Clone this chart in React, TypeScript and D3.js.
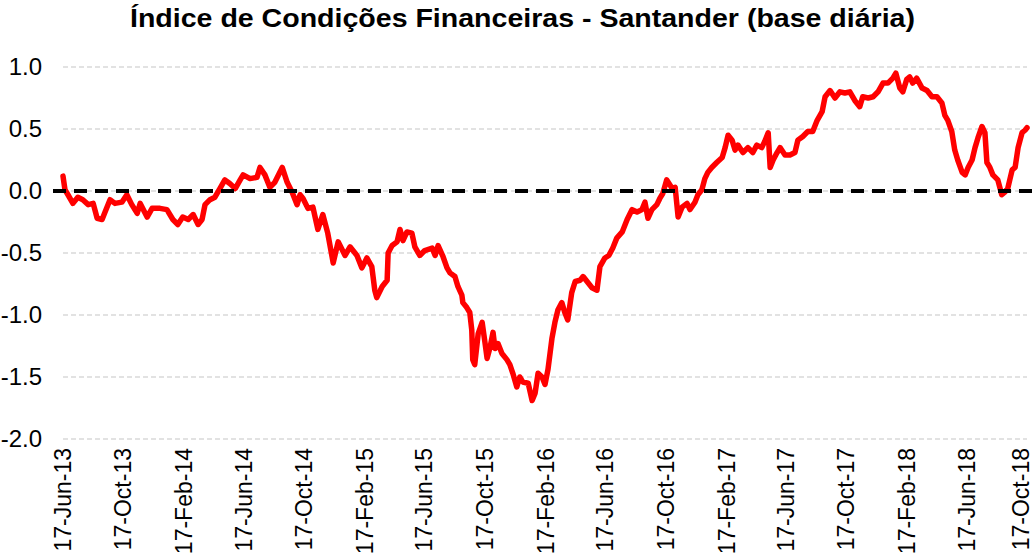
import React, { useEffect, useRef } from 'react';
import * as d3 from 'd3';

// leitura aproximada da série (base diária) a partir do gráfico
const dates = [
  '2013-06-17', '2013-06-21', '2013-06-27', '2013-07-07', '2013-07-17', '2013-07-27', '2013-08-07', '2013-08-17',
  '2013-08-25', '2013-09-04', '2013-09-10', '2013-09-20', '2013-09-30', '2013-10-14', '2013-10-24', '2013-11-03',
  '2013-11-14', '2013-11-20', '2013-12-04', '2013-12-14', '2013-12-30', '2014-01-13', '2014-01-25', '2014-02-04',
  '2014-02-14', '2014-02-25', '2014-03-07', '2014-03-17', '2014-03-25', '2014-03-31', '2014-04-10', '2014-04-20',
  '2014-04-30', '2014-05-10', '2014-05-20', '2014-05-31', '2014-06-10', '2014-06-16', '2014-06-30', '2014-07-14',
  '2014-07-20', '2014-07-30', '2014-08-09', '2014-08-19', '2014-09-03', '2014-09-13', '2014-09-23', '2014-10-03',
  '2014-10-09', '2014-10-15', '2014-10-25', '2014-11-04', '2014-11-14', '2014-11-24', '2014-12-04', '2014-12-15',
  '2014-12-25', '2015-01-08', '2015-01-18', '2015-02-01', '2015-02-11', '2015-02-21', '2015-03-03', '2015-03-09',
  '2015-03-13', '2015-03-24', '2015-04-03', '2015-04-05', '2015-04-13', '2015-04-23', '2015-04-29', '2015-05-05',
  '2015-05-13', '2015-05-23', '2015-05-29', '2015-06-08', '2015-06-18', '2015-07-03', '2015-07-09', '2015-07-15',
  '2015-07-25', '2015-08-02', '2015-08-08', '2015-08-18', '2015-08-24', '2015-09-01', '2015-09-03', '2015-09-11',
  '2015-09-17', '2015-09-21', '2015-09-23', '2015-09-27', '2015-10-04', '2015-10-12', '2015-10-18', '2015-10-22',
  '2015-10-28', '2015-11-03', '2015-11-07', '2015-11-13', '2015-11-21', '2015-12-01', '2015-12-07', '2015-12-13',
  '2015-12-21', '2015-12-27', '2016-01-02', '2016-01-13', '2016-01-21', '2016-01-27', '2016-02-02', '2016-02-10',
  '2016-02-16', '2016-02-22', '2016-03-01', '2016-03-07', '2016-03-13', '2016-03-21', '2016-03-27', '2016-04-02',
  '2016-04-10', '2016-04-17', '2016-04-27', '2016-05-03', '2016-05-11', '2016-05-21', '2016-05-31', '2016-06-06',
  '2016-06-16', '2016-06-24', '2016-07-02', '2016-07-10', '2016-07-21', '2016-07-31', '2016-08-10', '2016-08-20',
  '2016-08-30', '2016-09-05', '2016-09-11', '2016-09-19', '2016-09-29', '2016-10-05', '2016-10-11', '2016-10-19',
  '2016-10-30', '2016-11-05', '2016-11-11', '2016-11-19', '2016-11-29', '2016-12-05', '2016-12-15', '2016-12-21',
  '2016-12-29', '2017-01-04', '2017-01-10', '2017-01-18', '2017-01-28', '2017-02-08', '2017-02-14', '2017-02-20',
  '2017-02-28', '2017-03-06', '2017-03-12', '2017-03-22', '2017-04-01', '2017-04-11', '2017-04-19', '2017-04-29',
  '2017-05-05', '2017-05-12', '2017-05-16', '2017-05-22', '2017-05-30', '2017-06-05', '2017-06-15', '2017-06-25',
  '2017-07-05', '2017-07-11', '2017-07-21', '2017-07-31', '2017-08-10', '2017-08-19', '2017-08-29', '2017-09-04',
  '2017-09-14', '2017-09-24', '2017-10-04', '2017-10-14', '2017-10-24', '2017-11-03', '2017-11-13', '2017-11-19',
  '2017-11-30', '2017-12-10', '2017-12-20', '2017-12-30', '2018-01-09', '2018-01-19', '2018-01-25', '2018-02-02',
  '2018-02-08', '2018-02-16', '2018-02-22', '2018-02-28', '2018-03-08', '2018-03-19', '2018-03-29', '2018-04-08',
  '2018-04-18', '2018-04-28', '2018-05-04', '2018-05-10', '2018-05-18', '2018-05-24', '2018-05-30', '2018-06-08',
  '2018-06-14', '2018-06-20', '2018-06-28', '2018-07-04', '2018-07-10', '2018-07-18', '2018-07-24', '2018-07-28',
  '2018-08-03', '2018-08-09', '2018-08-19', '2018-08-27', '2018-09-02', '2018-09-08', '2018-09-17', '2018-09-23',
  '2018-09-29', '2018-10-07', '2018-10-13', '2018-10-17'
];

const values = [
  0.12, 0.01, -0.03, -0.10, -0.05, -0.07, -0.11, -0.10,
  -0.22, -0.23, -0.17, -0.07, -0.10, -0.09, -0.03, -0.11,
  -0.18, -0.10, -0.21, -0.14, -0.14, -0.15, -0.23, -0.27,
  -0.21, -0.23, -0.19, -0.27, -0.23, -0.11, -0.07, -0.05,
  0.02, 0.09, 0.06, 0.02, 0.09, 0.13, 0.10, 0.11,
  0.19, 0.13, 0.03, 0.07, 0.19, 0.07, -0.01, -0.11,
  -0.03, -0.06, -0.14, -0.13, -0.31, -0.19, -0.34, -0.58,
  -0.41, -0.52, -0.45, -0.52, -0.62, -0.54, -0.61, -0.80,
  -0.86, -0.77, -0.72, -0.50, -0.44, -0.41, -0.31, -0.40,
  -0.33, -0.34, -0.45, -0.52, -0.48, -0.46, -0.52, -0.44,
  -0.53, -0.62, -0.66, -0.69, -0.77, -0.84, -0.90, -0.94,
  -0.98, -1.12, -1.36, -1.40, -1.15, -1.06, -1.23, -1.35,
  -1.26, -1.14, -1.27, -1.23, -1.31, -1.36, -1.40, -1.47,
  -1.58, -1.50, -1.54, -1.55, -1.69, -1.63, -1.47, -1.50,
  -1.56, -1.44, -1.19, -1.06, -0.96, -0.90, -0.98, -1.04,
  -0.82, -0.73, -0.72, -0.69, -0.73, -0.78, -0.80, -0.61,
  -0.54, -0.52, -0.46, -0.38, -0.33, -0.23, -0.15, -0.17,
  -0.15, -0.09, -0.22, -0.15, -0.11, -0.06, -0.02, 0.09,
  0.02, 0.03, -0.21, -0.13, -0.10, -0.15, -0.09, -0.03,
  0.01, 0.10, 0.15, 0.19, 0.23, 0.27, 0.35, 0.45,
  0.41, 0.33, 0.37, 0.31, 0.35, 0.31, 0.37, 0.35,
  0.40, 0.47, 0.19, 0.25, 0.31, 0.35, 0.29, 0.29,
  0.31, 0.41, 0.44, 0.48, 0.48, 0.57, 0.64, 0.76,
  0.81, 0.75, 0.80, 0.79, 0.80, 0.73, 0.68, 0.76,
  0.75, 0.76, 0.80, 0.87, 0.87, 0.91, 0.95, 0.83,
  0.80, 0.90, 0.92, 0.87, 0.91, 0.83, 0.81, 0.76,
  0.76, 0.71, 0.61, 0.57, 0.48, 0.33, 0.25, 0.15,
  0.13, 0.19, 0.25, 0.35, 0.43, 0.52, 0.47, 0.23,
  0.19, 0.13, 0.09, -0.03, -0.01, 0.02, 0.17, 0.19,
  0.35, 0.47, 0.49, 0.51
];

const tickDates = [
  '2013-06-17', '2013-10-17', '2014-02-17', '2014-06-17', '2014-10-17', '2015-02-17',
  '2015-06-17', '2015-10-17', '2016-02-17', '2016-06-17', '2016-10-17', '2017-02-17',
  '2017-06-17', '2017-10-17', '2018-02-17', '2018-06-17', '2018-10-17'
];

const yTicks = [-2, -1.5, -1, -0.5, 0, 0.5, 1];

const title = 'Índice de Condições Financeiras - Santander (base diária)';

const FONT = "'Liberation Sans', Arial, Helvetica, sans-serif";

export default function App() {
  const ref = useRef<SVGSVGElement>(null);

  useEffect(() => {
    const width = 1035;
    const height = 558;
    const svg = d3.select(ref.current);
    svg.selectAll('*').remove();
    svg.attr('width', width).attr('height', height);

    const parse = d3.timeParse('%Y-%m-%d');
    const data = dates.map((d, i) => ({ date: parse(d) as Date, value: values[i] }));
    const ticks = tickDates.map(d => parse(d) as Date);

    const x = d3.scaleTime()
      .domain([ticks[0], ticks[ticks.length - 1]])
      .range([63, 1027]);
    const y = d3.scaleLinear()
      .domain([-2, 1])
      .range([439, 67]);

    svg.append('rect')
      .attr('width', width)
      .attr('height', height)
      .attr('fill', '#ffffff');

    // título (um pouco esticado na horizontal, como no original)
    svg.append('text')
      .attr('x', 522.5)
      .attr('y', 27)
      .attr('text-anchor', 'middle')
      .attr('font-family', FONT)
      .attr('font-weight', 'bold')
      .attr('font-size', 25)
      .attr('textLength', 785)
      .attr('lengthAdjust', 'spacingAndGlyphs')
      .attr('fill', '#000')
      .text(title);

    // linhas de grade
    svg.append('g')
      .selectAll('line')
      .data(yTicks)
      .enter()
      .append('line')
      .attr('x1', 63)
      .attr('x2', 1027)
      .attr('y1', d => y(d))
      .attr('y2', d => y(d))
      .attr('stroke', '#d9d9d9')
      .attr('stroke-width', 1.5)
      .attr('stroke-dasharray', '5,3');

    // rótulos do eixo y
    svg.append('g')
      .selectAll('text')
      .data(yTicks)
      .enter()
      .append('text')
      .attr('x', 42)
      .attr('y', d => y(d))
      .attr('dy', '0.35em')
      .attr('text-anchor', 'end')
      .attr('font-family', FONT)
      .attr('font-size', 24)
      .attr('fill', '#000')
      .text(d => d.toFixed(1));

    // rótulos do eixo x (datas); o último fica encostado na borda
    const fmt = d3.timeFormat('%d-%b-%y');
    svg.append('g')
      .selectAll('text')
      .data(ticks)
      .enter()
      .append('text')
      .attr('transform', d => 'translate(' + Math.min(x(d), 1021) + ',448) rotate(-90)')
      .attr('dy', '0.35em')
      .attr('text-anchor', 'end')
      .attr('font-family', FONT)
      .attr('font-size', 23)
      .attr('fill', '#000')
      .text(d => fmt(d));

    // série
    const line = d3.line<{ date: Date; value: number }>()
      .x(d => x(d.date))
      .y(d => y(d.value));
    svg.append('path')
      .datum(data)
      .attr('d', line)
      .attr('fill', 'none')
      .attr('stroke', '#ff0000')
      .attr('stroke-width', 5.5)
      .attr('stroke-linejoin', 'round')
      .attr('stroke-linecap', 'round');

    // linha do zero
    svg.append('line')
      .attr('x1', 53)
      .attr('x2', width)
      .attr('y1', y(0))
      .attr('y2', y(0))
      .attr('stroke', '#000')
      .attr('stroke-width', 4)
      .attr('stroke-dasharray', '13,8');
  }, []);

  return <svg ref={ref} style={{ position: 'absolute', left: 0, top: 0, display: 'block' }} />;
}
